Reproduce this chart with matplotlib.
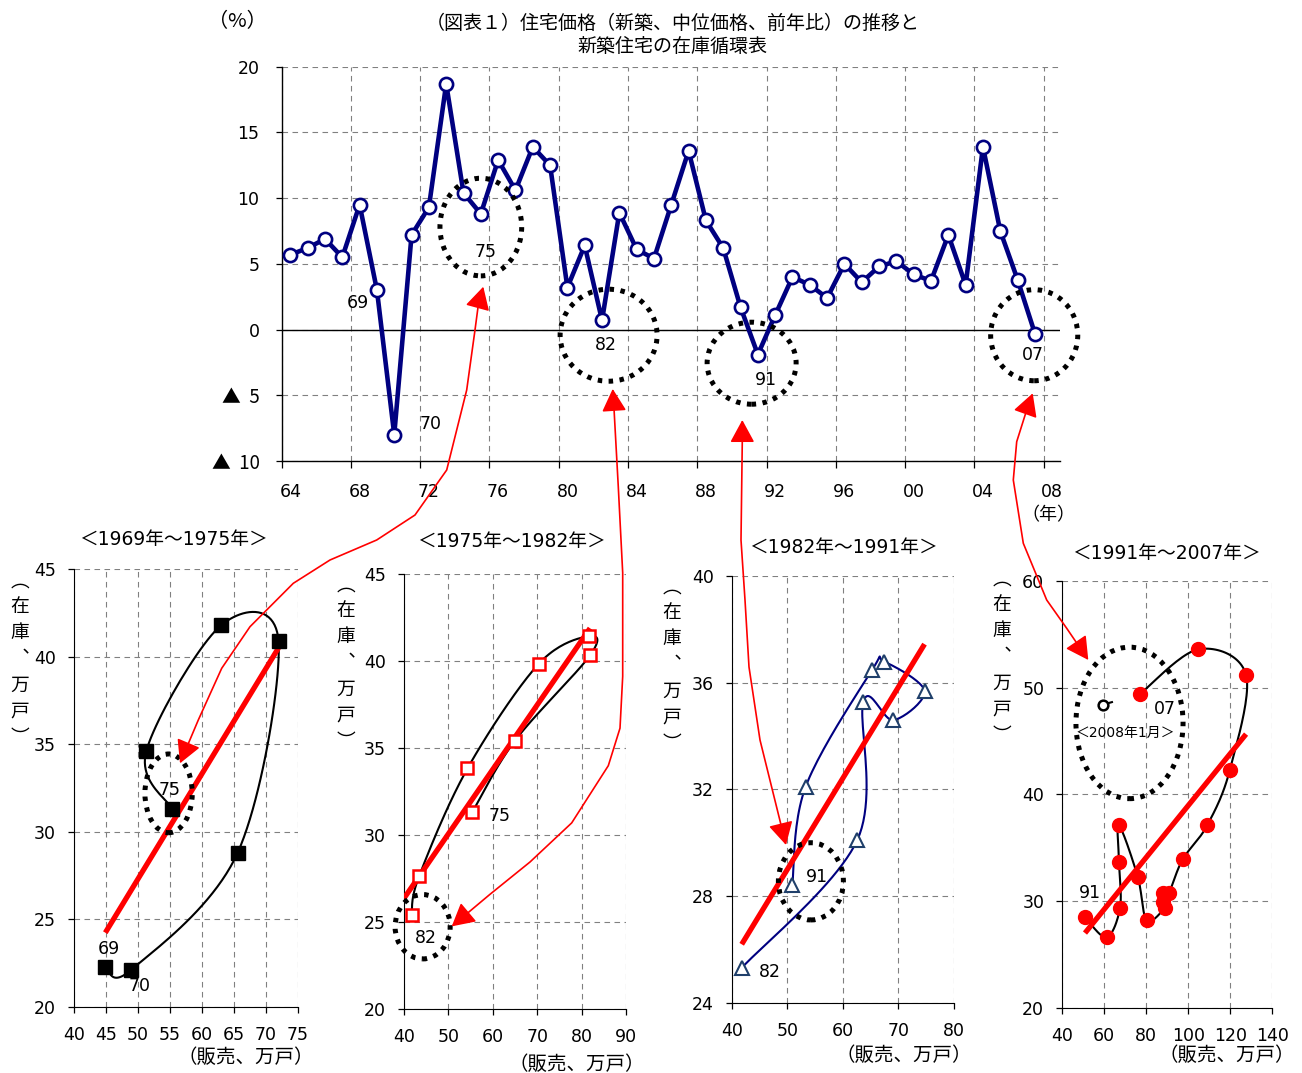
import numpy as np
import matplotlib
matplotlib.use('Agg')
import matplotlib.pyplot as plt
from matplotlib.patches import Ellipse, FancyArrowPatch
from matplotlib.path import Path

plt.rcParams['font.family'] = ['DejaVu Sans', 'Noto Sans CJK JP']
CJK = ['Noto Sans CJK JP', 'DejaVu Sans']

W, H = 1302, 1073

# ---------------- data ----------------
years = list(range(1964, 2008))
price_yoy = [5.7, 6.2, 6.9, 5.5, 9.5, 3.0, -8.0, 7.2, 9.3, 18.7,
             10.4, 8.8, 12.9, 10.6, 13.9, 12.5, 3.2, 6.4, 0.7, 8.9,
             6.1, 5.4, 9.5, 13.6, 8.3, 6.2, 1.7, -1.9, 1.1, 4.0,
             3.4, 2.4, 5.0, 3.6, 4.8, 5.2, 4.2, 3.7, 7.2, 3.4,
             13.9, 7.5, 3.8, -0.3]
xtick_labels = ['64', '68', '72', '76', '80', '84', '88', '92', '96', '00', '04', '08']
ytick_values = [-10, -5, 0, 5, 10, 15, 20]
ytick_labels = ['▲  10', '▲  5', '0', '5', '10', '15', '20']

# 1969-1975
p1_sales = [44.9, 48.9, 65.6, 72.0, 63.0, 51.3, 55.4]
p1_stock = [22.3, 22.1, 28.8, 40.9, 41.8, 34.6, 31.3]
# 1975-1982
p2_sales = [55.4, 65.0, 81.9, 81.6, 70.3, 54.3, 43.4, 41.7]
p2_stock = [31.3, 35.4, 40.3, 41.4, 39.8, 33.8, 27.6, 25.4]
# 1982-1991
p3_sales = [41.8, 62.6, 63.7, 69.1, 74.7, 67.4, 65.3, 53.3, 50.9]
p3_stock = [25.3, 30.1, 35.3, 34.6, 35.7, 36.8, 36.5, 32.1, 28.4]
# 1991-2007
p4_sales = [50.8, 61.1, 67.5, 67.0, 67.0, 75.9, 80.2, 88.9, 87.8, 88.1,
            90.8, 97.3, 109.0, 119.8, 127.5, 104.8, 77.0]
p4_stock = [28.5, 26.6, 29.4, 33.7, 37.1, 32.3, 28.2, 29.4, 29.9, 30.8,
            30.8, 33.9, 37.1, 42.3, 51.2, 53.6, 49.4]
p4_jan2008_sales = [59.2]
p4_jan2008_stock = [48.4]

panel_titles = ['＜1969年～1975年＞', '＜1975年～1982年＞', '＜1982年～1991年＞', '＜1991年～2007年＞']

# ---------------- helpers ----------------
def fx(x):
    return x / W

def fy(y):
    return 1 - y / H

def add_axes_px(l, t, r, b):
    return fig.add_axes([fx(l), fy(b), (r - l) / W, (b - t) / H])

GRID = dict(color='#808080', linestyle=(0, (5, 4)), linewidth=0.8)

def smooth(ax, xs, ys, n=24):
    x0, x1 = ax.get_xlim(); y0, y1 = ax.get_ylim()
    bb = ax.get_position()
    sx = bb.width * W / (x1 - x0); sy = bb.height * H / (y1 - y0)
    P = np.column_stack([np.array(xs) * sx, np.array(ys) * sy])
    pts = [P[0]]
    for i in range(len(P) - 1):
        p0 = P[i - 1] if i > 0 else P[i]
        p1 = P[i]; p2 = P[i + 1]
        p3 = P[i + 2] if i + 2 < len(P) else P[i + 1]
        c1 = p1 + (p2 - p0) / 6; c2 = p2 - (p3 - p1) / 6
        t = np.linspace(0, 1, n)[1:, None]
        seg = (1 - t) ** 3 * p1 + 3 * (1 - t) ** 2 * t * c1 + 3 * (1 - t) * t ** 2 * c2 + t ** 3 * p2
        pts.extend(seg)
    pts = np.array(pts)
    return pts[:, 0] / sx, pts[:, 1] / sy

def dotted_ellipse(ax, cx, cy, w, h):
    e = Ellipse((cx, cy), w, h, fill=False, edgecolor='black', linewidth=3.6,
                linestyle=(0, (0.9, 1.3)), clip_on=False, zorder=6)
    ax.add_patch(e)

# ---------------- figure ----------------
fig = plt.figure(figsize=(W / 100, H / 100), dpi=100)

# ---- top chart ----
ax = add_axes_px(281.7, 66.7, 1060, 461)
idx = np.arange(len(years))
ax.set_xlim(-0.5, 44.45)
ax.set_ylim(-10, 20)
ax.plot(idx, price_yoy, color='#000080', lw=3.3, marker='o', ms=9.5,
        mfc='white', mec='#000080', mew=1.9, zorder=5, clip_on=False)
ax.axhline(0, color='black', lw=1.0, zorder=3)
ax.set_xticks(np.arange(0, 45, 4))
ax.set_xticklabels(xtick_labels)
ax.set_xticks(np.arange(-0.5, 44, 4), minor=True)
ax.tick_params(axis='x', which='major', length=0, pad=16, labelsize=12.5)
ax.tick_params(axis='x', which='minor', length=5, direction='out', width=0.9)
ax.set_yticks(ytick_values)
ax.set_yticklabels(ytick_labels)
ax.tick_params(axis='y', length=4, direction='out', width=0.9, pad=12, labelsize=12.5)
for lbl in ax.get_yticklabels():
    if '▲' in lbl.get_text():
        lbl.set_family(CJK)
        lbl.set_fontsize(13.5)
ax.grid(True, which='minor', axis='x', **GRID)
ax.grid(True, which='major', axis='y', **GRID)
ax.set_axisbelow(True)
for s in ['top', 'right']:
    ax.spines[s].set_visible(False)
for s in ['left', 'bottom']:
    ax.spines[s].set_linewidth(1.0)

dotted_ellipse(ax, 11.0, 7.8, 4.72, 7.43)
dotted_ellipse(ax, 18.38, -0.43, 5.6, 7.0)
dotted_ellipse(ax, 26.64, -2.56, 5.14, 6.24)
dotted_ellipse(ax, 42.96, -0.43, 5.03, 6.93)
for lab, x, y in [('69', 3.9, 2.0), ('70', 8.1, -7.2), ('75', 11.25, 5.9),
                  ('82', 18.25, -1.2), ('91', 27.45, -3.85), ('07', 42.9, -1.95)]:
    ax.text(x, y, lab, fontsize=12.5, ha='center', va='center', zorder=7)

fig.text(fx(237), fy(22), '（%）', fontsize=14.5, ha='center', va='center', family=CJK)
fig.text(fx(673), fy(23), '（図表１）住宅価格（新築、中位価格、前年比）の推移と',
         fontsize=13.7, ha='center', va='center', family=CJK)
fig.text(fx(672), fy(47), '新築住宅の在庫循環表', fontsize=13.7, ha='center', va='center', family=CJK)
fig.text(fx(1048), fy(515), '（年）', fontsize=13, ha='center', va='center', family=CJK)

# ---- bottom panels ----
boxes = [(74, 569.4, 297.7, 1006.8), (404, 573.6, 626, 1008.5),
         (731.7, 576.4, 954, 1002.5), (1062.3, 581, 1272.3, 1007.8)]
limits = [((40, 75), (20, 45), 5, 5), ((40, 90), (20, 45), 10, 5),
          ((40, 80), (24, 40), 10, 4), ((40, 140), (20, 60), 20, 10)]
title_pos = [(173, 539), (511, 542), (843, 548), (1166, 553)]
xlabel_pos = [(246, 1058), (577, 1065), (904, 1056), (1227, 1056)]
ylabel_pos = [(20, 659), (346, 663), (672, 665), (1002, 657)]

axes = []
for k in range(4):
    a = add_axes_px(*boxes[k])
    (xl, yl, xs, ys) = limits[k]
    a.set_xlim(*xl); a.set_ylim(*yl)
    a.set_xticks(np.arange(xl[0], xl[1] + 0.1, xs))
    a.set_yticks(np.arange(yl[0], yl[1] + 0.1, ys))
    a.tick_params(length=4, direction='out', width=0.9, labelsize=12.5)
    a.tick_params(axis='x', pad=10)
    a.tick_params(axis='y', pad=9)
    a.grid(True, **GRID)
    a.set_axisbelow(True)
    for s in ['top', 'right']:
        a.spines[s].set_visible(False)
    fig.text(fx(title_pos[k][0]), fy(title_pos[k][1]), panel_titles[k],
             fontsize=13.5, ha='center', va='center')
    fig.text(fx(xlabel_pos[k][0]), fy(xlabel_pos[k][1]), '（販売、万戸）',
             fontsize=14, ha='center', va='center', family=CJK)
    fig.text(fx(ylabel_pos[k][0]), fy(ylabel_pos[k][1]), '︵\n在\n庫\n︑\n万\n戸\n︶',
             fontsize=13.5, ha='center', va='center', linespacing=1.32, family=CJK)
    axes.append(a)

def trend(a, xs, ys, x_from=None):
    m, c = np.polyfit(xs, ys, 1)
    x0 = min(xs) if x_from is None else x_from
    xx = np.array([x0, max(xs)])
    a.plot(xx, m * xx + c, color='#FF0000', lw=3.8, zorder=4, solid_capstyle='butt')

# panel 1
a = axes[0]
sx_, sy_ = smooth(a, p1_sales, p1_stock)
a.plot(sx_, sy_, color='black', lw=1.5, zorder=3)
a.plot(p1_sales, p1_stock, ls='none', marker='s', ms=9.5, color='black', zorder=5)
trend(a, p1_sales, p1_stock)
dotted_ellipse(a, 54.8, 32.2, 7.4, 4.5)
a.text(55.0, 32.4, '75', fontsize=12.5, ha='center', va='center', zorder=7)
a.text(45.5, 23.3, '69', fontsize=12.5, ha='center', va='center')
a.text(50.3, 21.2, '70', fontsize=12.5, ha='center', va='center')

# panel 2
a = axes[1]
sx_, sy_ = smooth(a, p2_sales, p2_stock)
a.plot(sx_, sy_, color='black', lw=1.5, zorder=3)
trend(a, p2_sales, p2_stock, x_from=40)
a.plot(p2_sales, p2_stock, ls='none', marker='s', ms=9, mfc='white', mec='#FF0000', mew=1.8, zorder=5)
dotted_ellipse(a, 44.2, 24.7, 12.4, 3.7)
a.text(45.0, 24.05, '82', fontsize=12.5, ha='center', va='center', zorder=7)
a.text(61.6, 31.05, '75', fontsize=12.5, ha='center', va='center')

# panel 3
a = axes[2]
sx_, sy_ = smooth(a, p3_sales, p3_stock)
a.plot(sx_, sy_, color='#000080', lw=1.5, zorder=3)
trend(a, p3_sales, p3_stock)
a.plot(p3_sales, p3_stock, ls='none', marker='^', ms=10, mfc='white', mec='#1F3F6A', mew=1.5, zorder=5)
dotted_ellipse(a, 54.25, 28.55, 11.7, 2.9)
a.text(55.3, 28.7, '91', fontsize=12.5, ha='center', va='center', zorder=7)
a.text(46.9, 25.15, '82', fontsize=12.5, ha='center', va='center')

# panel 4
a = axes[3]
sx_, sy_ = smooth(a, p4_sales, p4_stock)
a.plot(sx_, sy_, color='black', lw=1.5, zorder=3)
trend(a, p4_sales, p4_stock)
a.plot(p4_sales, p4_stock, ls='none', marker='o', ms=10, color='#FF0000', zorder=5)
stub_x = [p4_jan2008_sales[0], p4_jan2008_sales[0] + 0.25 * (p4_sales[-1] - p4_jan2008_sales[0])]
stub_y = [p4_jan2008_stock[0], p4_jan2008_stock[0] + 0.25 * (p4_stock[-1] - p4_jan2008_stock[0])]
a.plot(stub_x, stub_y, color='black', lw=1.5, zorder=4)
a.plot(p4_jan2008_sales, p4_jan2008_stock, ls='none', marker='o', ms=7, mfc='white', mec='black', mew=1.8, zorder=5)
dotted_ellipse(a, 72.0, 46.7, 51, 14.2)
a.text(89.0, 48.0, '07', fontsize=12.5, ha='center', va='center', zorder=7)
a.text(69.8, 45.8, '＜2008年1月＞', fontsize=10, ha='center', va='center', zorder=7)
a.text(53.3, 30.8, '91', fontsize=12.5, ha='center', va='center')

# ---- red connector arrows (figure pixels) ----
arrow_paths = [
    [(483.3, 286.7), (478.3, 305), (475, 330), (466.7, 390), (446.7, 470), (415, 515),
     (376.7, 540), (330, 560), (293.3, 583.3), (250, 626.7), (221.7, 668.3), (198.3, 720), (180, 763.3)],
    [(612.7, 388.9), (614, 408.6), (618.3, 487), (622.7, 572.9), (622.7, 676.4), (620, 728.2),
     (608.3, 765.7), (571.7, 822.9), (530, 862), (490, 894.3), (451.7, 926.4)],
    [(742.3, 420), (742.3, 440), (741, 540), (745, 600), (749, 667), (760, 740), (786, 845)],
    [(1032.7, 393.3), (1026.7, 410), (1016.7, 441.7), (1013.3, 480), (1023.3, 543.3),
     (1046.7, 600), (1066.7, 628.3), (1088.3, 660)],
]
for pts in arrow_paths:
    verts = [(fx(x), fy(y)) for x, y in pts]
    path = Path(verts, [Path.MOVETO] + [Path.LINETO] * (len(verts) - 1))
    arr = FancyArrowPatch(path=path, arrowstyle='<|-|>,head_length=0.7,head_width=0.38',
                          mutation_scale=20, color='#FF0000', lw=1.2,
                          shrinkA=0, shrinkB=0, transform=fig.transFigure, zorder=10)
    fig.add_artist(arr)

fig.savefig('out.png', dpi=100)
